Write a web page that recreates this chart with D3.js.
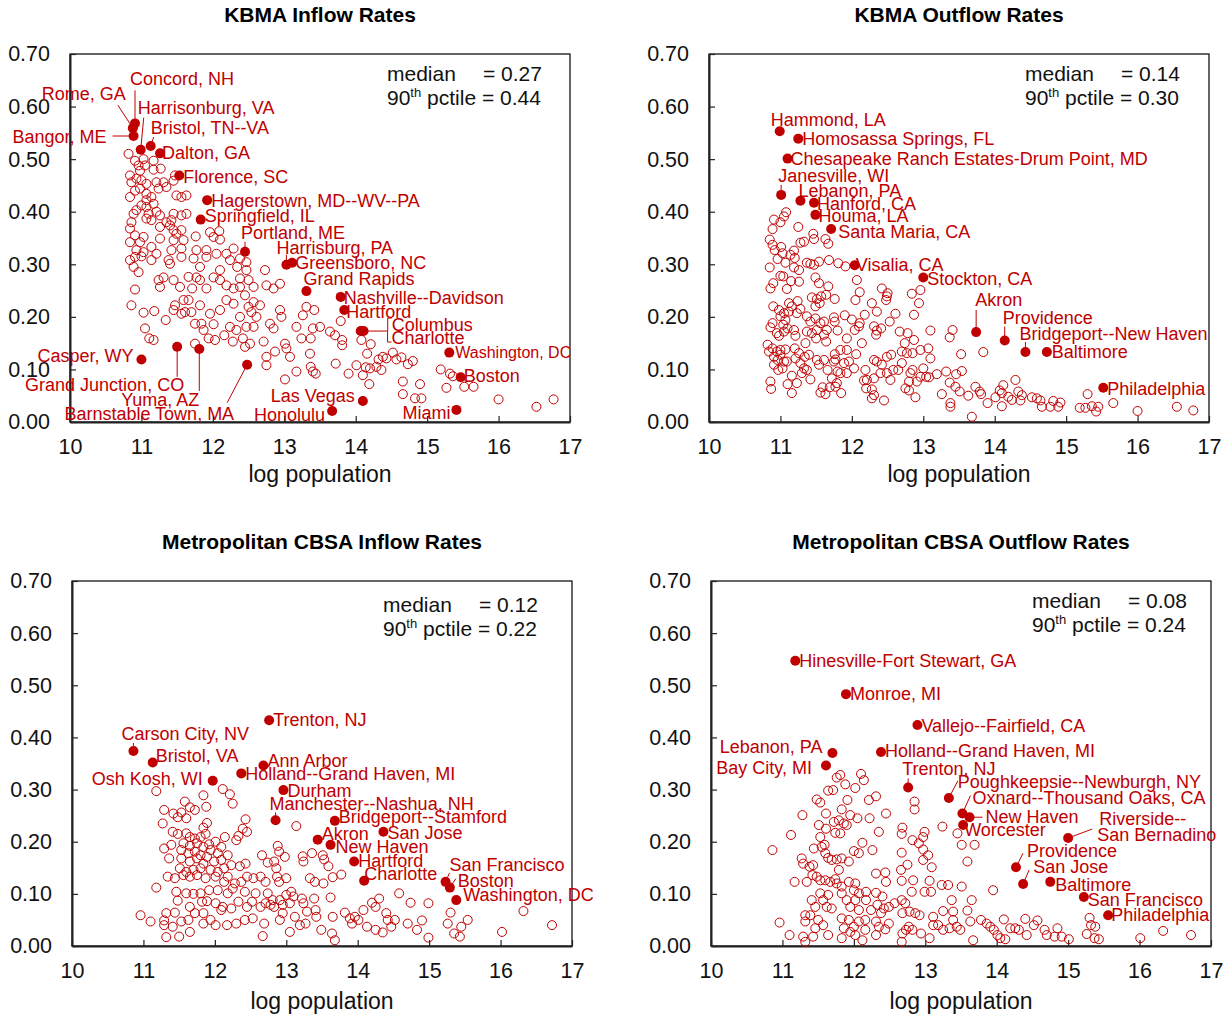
<!DOCTYPE html>
<html>
<head>
<meta charset="utf-8">
<script src="https://cdn.jsdelivr.net/npm/d3@7"></script>
<style>
  body { margin: 0; background: #fff; }
  text { font-family: "Liberation Sans", Arial, sans-serif; }
</style>
</head>
<body>
<script>
// ---- data ----
const xTicks = [10, 11, 12, 13, 14, 15, 16, 17];
const yTicks = [0, 0.1, 0.2, 0.3, 0.4, 0.5, 0.6, 0.7];
const titles = ["KBMA Inflow Rates", "KBMA Outflow Rates", "Metropolitan CBSA Inflow Rates", "Metropolitan CBSA Outflow Rates"];
const medians = [0.27, 0.14, 0.12, 0.08];
const pctile90 = [0.44, 0.30, 0.22, 0.24];

const kbmaInOpen = [
  [10.82,.51],[10.91,.497],[10.96,.488],[11.03,.50],[11.17,.497],[11.05,.488],
  [10.98,.478],[11.17,.48],[11.27,.482],
  [10.84,.469],[10.86,.456],[10.93,.463],[11.0,.46],[11.07,.453],[11.21,.456],[11.31,.456],[11.45,.459],[11.47,.469],
  [10.84,.428],[10.91,.44],[10.98,.444],[11.07,.434],[11.24,.444],[11.35,.447],[11.49,.431],[11.56,.428],[11.63,.431],
  [11.0,.412],[11.07,.422],[11.14,.428],[11.07,.409],[11.17,.415],[10.93,.403],[10.89,.396],
  [11.10,.396],[11.21,.40],[11.26,.393],[11.45,.396],[11.56,.393],[11.63,.396],
  [10.86,.38],[11.07,.387],[11.14,.384],[11.35,.38],[11.42,.384],[11.40,.374],
  [10.84,.368],[10.91,.355],[11.03,.352],[11.26,.371],[11.45,.365],[11.49,.358],[11.56,.365],[11.76,.353],[11.96,.361],[12.09,.363],
  [10.84,.342],[10.98,.342],[11.26,.349],[11.45,.346],[11.59,.346],[12.01,.352],[12.10,.347],
  [10.93,.327],[11.03,.323],[11.14,.333],[11.21,.32],[11.42,.327],[11.56,.33],[11.77,.327],[11.91,.327],[12.05,.32],[12.19,.32],[12.29,.33],
  [10.84,.308],[10.91,.314],[11.0,.315],[11.14,.308],[11.38,.308],[11.56,.314],[11.73,.311],[11.91,.314],[12.24,.308],[12.38,.311],[12.47,.304],
  [10.89,.295],[10.96,.285],[11.40,.301],[11.82,.295],[12.10,.289],[12.34,.295],[12.47,.289],[12.73,.289],
  [11.24,.27],[11.31,.275],[11.45,.27],[11.66,.276],[11.77,.275],[11.82,.27],[12.01,.275],[12.10,.27],[12.19,.26],[12.38,.273],[12.50,.27],[12.57,.257],[12.75,.26],[12.94,.263],[12.85,.254],
  [10.91,.252],[11.26,.257],[11.54,.257],[11.71,.254],[11.91,.254],[12.29,.254],[12.38,.257],
  [10.86,.222],[11.03,.208],[11.05,.178],[11.11,.159],[11.17,.156],[11.18,.211],[11.34,.194],[11.45,.213],[11.47,.222],[11.56,.206],
  [11.61,.209],[11.66,.232],[11.70,.209],[11.75,.187],[11.75,.149],[11.82,.222],[11.84,.187],[11.94,.159],[12.01,.186],[12.03,.156],
  [12.16,.165],[12.19,.232],[12.24,.181],[12.28,.153],[12.33,.175],[12.38,.20],[12.42,.159],[12.45,.143],[12.52,.149],[12.47,.181],
  [12.54,.209],[12.57,.181],[12.61,.20],[12.66,.222],[12.71,.153],[12.75,.124],[12.75,.108],[12.80,.187],[12.85,.178],[12.87,.134],
  [12.94,.213],[12.96,.20],[13.01,.149],[13.03,.14],[13.08,.124],[13.01,.081],[13.17,.096],[13.24,.159],[13.26,.203],[13.31,.219],
  [13.36,.13],[13.37,.105],[13.40,.096],[13.44,.092],[13.37,.159],[13.40,.178],[13.42,.213],[13.17,.181],[12.57,.228],[12.45,.241],
  [12.50,.219],[12.29,.225],[12.10,.213],[11.96,.206],[11.59,.232],[11.87,.175],
  [13.50,.181],[13.64,.172],[13.71,.165],[13.79,.192],[13.81,.156],[13.81,.146],[13.72,.111],[13.90,.092],[14.01,.108],[14.08,.156],
  [14.10,.089],[14.14,.104],[14.16,.13],[14.19,.072],[14.21,.148],[14.20,.102],[14.29,.105],[14.32,.119],[14.36,.099],[14.38,.124],
  [14.43,.121],[14.52,.132],[14.57,.119],[14.64,.123],[14.66,.077],[14.66,.053],[14.73,.11],[14.80,.116],[14.83,.045],[14.90,.072],
  [14.92,.045],[15.19,.10],[15.27,.065],[15.32,.092],[15.36,.087],[15.52,.067],[15.65,.067],[16.0,.043],[16.53,.029],[16.77,.043]
];
const kbmaInNamed = [
  ["Concord, NH",10.91,.568],["Rome, GA",10.88,.559],["Bangor, ME",10.89,.544],["Harrisonburg, VA",10.99,.518],
  ["Bristol, TN--VA",11.13,.525],["Dalton, GA",11.26,.511],["Florence, SC",11.53,.469],["Hagerstown, MD--WV--PA",11.92,.422],
  ["Springfield, IL",11.83,.385],["Portland, ME",12.45,.324],["Harrisburg, PA",13.03,.299],["Greensboro, NC",13.11,.303],
  ["Grand Rapids",13.31,.249],["Nashville--Davidson",13.79,.238],["Hartford",13.84,.213],["Columbus",14.07,.173],
  ["Charlotte",14.11,.173],["Washington, DC",15.31,.132],["Boston",15.47,.085],["Las Vegas",14.10,.040],
  ["Honolulu",13.67,.021],["Miami",15.41,.023],["Casper, WY",11.0,.119],["Grand Junction, CO",11.50,.143],
  ["Yuma, AZ",11.81,.139],["Barnstable Town, MA",12.48,.109]
];

const kbmaOutOpen = [
  [11.08,.399],[11.05,.391],[10.91,.385],[11.0,.38],[10.89,.367],[11.25,.371],[10.85,.347],[10.89,.337],[10.92,.327],[11.01,.333],
  [11.03,.321],[11.14,.318],[11.19,.326],[11.20,.312],[10.96,.31],[11.07,.303],[11.46,.358],[11.47,.348],[11.28,.341],[11.33,.343],
  [11.63,.348],[11.67,.339],[11.37,.303],[11.42,.301],[11.47,.299],[11.54,.305],[11.68,.308],[11.81,.302],[11.91,.296],
  [10.85,.294],[11.19,.294],[11.26,.289],[11.0,.278],[11.04,.277],[11.26,.267],[11.15,.268],[10.90,.264],[10.86,.254],[11.09,.253],
  [11.49,.275],[11.54,.264],[11.67,.258],[11.76,.234],[12.07,.27],[12.11,.247],[12.05,.232],
  [11.44,.237],[11.51,.234],[11.57,.239],[11.64,.242],[11.55,.226],[11.49,.22],[11.24,.23],[11.12,.226],[11.16,.22],[11.28,.215],
  [10.90,.22],[10.98,.213],[11.05,.207],[11.12,.21],[11.23,.207],[11.0,.201],[11.07,.194],[11.04,.185],[11.10,.178],[11.05,.172],
  [10.98,.164],[10.89,.188],[10.86,.18],[10.95,.169],[11.19,.175],[11.21,.164],[11.37,.201],[11.42,.191],[11.49,.197],[11.56,.188],
  [11.61,.191],[11.37,.172],[11.44,.169],[11.51,.175],[11.61,.166],[11.65,.175],[11.50,.159],[11.64,.153],
  [11.75,.199],[11.76,.191],[11.90,.203],[12.0,.195],[12.11,.188],[12.10,.182],[12.18,.204],[12.28,.226],[12.35,.21],[12.48,.232],
  [12.42,.254],[12.50,.245],[12.53,.191],[12.61,.206],[12.31,.182],[12.35,.174],[12.41,.178],[12.34,.166],
  [11.80,.174],[11.93,.159],[12.04,.175],[12.14,.15],[11.84,.137],[11.93,.137],[12.06,.129],[11.76,.129],[11.77,.119],
  [12.67,.172],[12.78,.169],[12.87,.156],[12.74,.15],[12.70,.134],[12.77,.131],[12.85,.131],[12.96,.137],[13.07,.14],[13.10,.121],
  [13.10,.174],[13.37,.161],[13.41,.175],[13.53,.129],[13.84,.133],[12.87,.204],[12.94,.226],[12.96,.251],[12.84,.244],[12.49,.239],
  [10.82,.147],[10.84,.134],[10.89,.14],[10.95,.134],[11.0,.137],[11.07,.138],[10.91,.124],[10.96,.118],[11.0,.128],[11.05,.115],
  [10.91,.109],[10.97,.099],[11.03,.102],[11.09,.115],[11.20,.14],[11.26,.131],[11.21,.121],[11.35,.15],[11.40,.128],[11.28,.112],
  [11.33,.102],[11.34,.124],[10.86,.077],[10.87,.063],[11.10,.072],[11.16,.088],[11.16,.055],[11.23,.074],[11.30,.093],[11.37,.099],
  [11.42,.081],[11.51,.118],[11.54,.109],[11.61,.118],[11.66,.099],[11.75,.115],[11.80,.096],[11.72,.083],[11.77,.067],[11.84,.093],
  [11.89,.112],[11.96,.115],[12.03,.102],[11.93,.093],[11.56,.056],[11.63,.053],[11.59,.066],[11.69,.066],[11.79,.074],[11.85,.055],
  [12.19,.099],[12.31,.118],[12.35,.115],[12.21,.08],[12.31,.083],[12.40,.093],[12.42,.109],[12.49,.124],[12.55,.128],[12.49,.093],
  [12.54,.08],[12.58,.099],[12.65,.099],[12.70,.112],[12.17,.079],[12.20,.064],[12.28,.062],[12.28,.045],[12.45,.041],[12.31,.051],
  [12.75,.064],[12.80,.077],[12.82,.093],[12.85,.099],[12.91,.077],[12.96,.086],[13.0,.102],[13.04,.086],[13.08,.085],[12.89,.047],
  [12.80,.06],[13.19,.091],[13.26,.053],[13.32,.096],[13.37,.075],[13.38,.036],[13.38,.029],[13.45,.067],[13.46,.091],[13.54,.097],
  [13.51,.058],[13.63,.05],[13.68,.01],[13.73,.067],[13.79,.058],[13.81,.053],[13.90,.036],[14.01,.047],[14.07,.06],[14.10,.055],
  [14.12,.07],[14.19,.048],[14.24,.042],[14.10,.03],[14.29,.08],[14.33,.058],[14.38,.051],[14.36,.041],[14.52,.047],[14.59,.045],
  [14.64,.041],[14.66,.029],[14.78,.029],[14.82,.04],[14.89,.029],[14.92,.037],[15.19,.027],[15.27,.027],[15.30,.053],[15.36,.03],
  [15.42,.02],[15.45,.029],[15.66,.036],[16.0,.021],[16.55,.029],[16.78,.022]
];
const kbmaOutNamed = [
  ["Hammond, LA",10.99,.553],["Homosassa Springs, FL",11.25,.539],["Chesapeake Ranch Estates-Drum Point, MD",11.10,.501],
  ["Janesville, WI",11.01,.432],["Lebanon, PA",11.28,.421],["Hanford, CA",11.47,.417],["Houma, LA",11.49,.394],
  ["Santa Maria, CA",11.71,.367],["Visalia, CA",12.04,.298],["Stockton, CA",13.0,.275],["Akron",13.74,.171],
  ["Providence",14.14,.155],["Bridgeport--New Haven",14.43,.133],["Baltimore",14.73,.133],["Philadelphia",15.52,.065]
];

const cbsaInOpen = [
  [11.18,.297],[12.11,.301],[12.21,.291],[12.25,.273],[11.84,.289],[11.88,.267],[11.58,.277],[11.65,.266],[11.72,.261],[11.29,.261],
  [11.42,.254],[11.53,.256],[11.27,.235],[11.48,.247],[11.60,.245],[11.84,.227],[11.89,.236],[12.43,.243],[12.39,.225],[12.45,.219],
  [12.33,.211],[12.30,.203],[11.41,.219],[11.48,.215],[11.56,.197],[11.60,.216],[11.65,.209],[11.72,.206],[11.80,.209],[11.87,.215],
  [12.14,.209],[11.53,.184],[11.65,.192],[11.75,.197],[11.84,.19],[11.92,.195],[12.01,.20],[12.09,.19],[11.29,.187],[11.39,.194],
  [11.63,.178],[11.72,.181],[11.80,.174],[11.89,.171],[11.94,.184],[12.04,.178],[12.18,.174],[11.36,.168],[11.53,.168],[11.65,.162],
  [11.75,.168],[11.84,.158],[11.99,.162],[12.09,.165],[12.23,.155],[12.35,.153],[12.43,.158],[11.51,.149],[11.60,.142],[11.70,.146],
  [11.80,.149],[11.94,.146],[12.04,.142],[12.13,.149],[11.34,.133],[11.44,.13],[11.56,.136],[11.65,.133],[11.75,.136],[11.87,.13],
  [12.01,.133],[12.18,.133],[12.13,.123],[12.28,.12],[12.37,.123],[12.45,.133],[12.54,.13],[12.64,.133],[12.71,.123],[12.87,.133],
  [13.0,.13],[12.90,.123],[12.66,.174],[12.74,.16],[12.83,.162],[12.88,.192],[12.90,.181],[12.98,.171],[12.86,.149],[13.14,.23],
  [13.23,.172],[13.24,.162],[13.36,.178],[13.33,.13],[13.40,.123],[13.51,.174],[13.53,.166],[13.59,.153],[13.65,.132],[13.77,.137],
  [13.52,.12],[11.18,.112],[11.46,.104],[11.60,.101],[11.48,.087],[11.70,.10],[11.80,.101],[11.92,.107],[12.04,.107],[12.18,.101],
  [12.25,.11],[12.42,.104],[12.57,.101],[12.74,.101],[12.81,.088],[12.91,.088],[13.0,.098],[13.07,.104],[13.10,.095],[13.22,.091],
  [13.39,.091],[13.62,.093],[11.82,.085],[11.89,.086],[12.01,.082],[12.11,.075],[12.33,.085],[12.45,.075],[12.52,.085],[12.64,.075],
  [12.71,.082],[12.78,.079],[12.83,.075],[12.95,.079],[13.05,.082],[13.24,.082],[13.29,.066],[13.41,.069],[13.42,.056],[13.65,.056],
  [13.82,.064],[13.89,.053],[13.96,.056],[14.01,.05],[14.08,.069],[13.92,.043],[14.13,.037],[14.20,.083],[14.25,.075],[14.30,.091],
  [14.40,.063],[14.42,.05],[14.52,.05],[14.47,.037],[14.25,.031],[14.35,.026],[14.58,.101],[14.74,.083],[14.70,.043],[14.83,.031],
  [14.90,.049],[14.99,.082],[14.99,.016],[15.26,.043],[15.30,.064],[15.35,.024],[15.43,.018],[15.45,.037],[15.54,.05],[16.02,.027],
  [16.32,.067],[16.72,.04],[10.96,.059],[11.10,.047],[11.32,.063],[11.29,.049],[11.29,.04],[11.44,.064],[11.41,.037],[11.53,.047],
  [11.63,.05],[11.65,.027],[11.32,.017],[11.50,.018],[11.84,.043],[11.94,.05],[12.01,.04],[12.17,.04],[12.30,.043],[12.42,.05],
  [12.53,.053],[12.67,.019],[12.69,.043],[12.91,.05],[12.95,.063],[13.05,.027],[13.12,.056],[13.19,.04],[13.27,.043],[13.49,.031],
  [13.64,.024],[13.68,.011],[12.09,.069],[12.23,.072],[11.65,.075],[11.84,.063],[11.72,.063]
];
const cbsaInNamed = [
  ["Trenton, NJ",12.76,.433],["Carson City, NV",10.86,.374],["Bristol, VA",11.13,.352],["Ann Arbor",12.68,.346],
  ["Holland--Grand Haven, MI",12.37,.331],["Osh Kosh, WI",11.97,.317],["Durham",12.96,.299],["Manchester--Nashua, NH",12.85,.241],
  ["Bridgeport--Stamford",13.68,.240],["San Jose",14.36,.219],["Akron",13.44,.204],["New Haven",13.62,.194],
  ["Hartford",13.95,.162],["Charlotte",14.09,.125],["San Francisco",15.23,.123],["Boston",15.29,.112],["Washington, DC",15.38,.088]
];

const cbsaOutOpen = [
  [10.86,.184],[10.96,.045],[11.10,.021],[11.12,.213],[11.17,.123],[11.27,.168],[11.29,.158],[11.28,.251],[11.32,.047],[11.29,.018],
  [11.32,.008],[11.32,.059],[11.39,.059],[11.34,.123],[11.38,.152],[11.43,.155],[11.42,.136],[11.44,.187],[11.48,.281],[11.53,.275],
  [11.51,.232],[11.53,.209],[11.55,.19],[11.59,.194],[11.60,.178],[11.61,.254],[11.61,.225],[11.64,.169],[11.48,.133],[11.53,.126],
  [11.60,.126],[11.67,.123],[11.76,.12],[11.41,.088],[11.46,.075],[11.53,.101],[11.57,.088],[11.64,.098],[11.62,.075],[11.69,.072],
  [11.50,.05],[11.57,.04],[11.46,.034],[11.64,.021],[11.43,.018],
  [11.64,.298],[11.71,.299],[11.76,.323],[11.81,.328],[11.88,.31],[11.72,.238],[11.79,.241],[11.86,.235],[11.90,.232],[11.83,.262],
  [11.91,.28],[11.95,.251],[12.05,.245],[11.74,.217],[11.81,.216],[11.76,.166],[11.69,.165],[11.83,.168],[11.93,.162],[12.0,.182],
  [12.07,.178],[12.12,.198],[12.26,.184],[11.79,.146],[11.74,.128],[11.83,.114],[11.93,.123],[12.02,.12],[12.0,.107],[12.07,.101],
  [12.17,.104],[11.83,.101],[11.90,.088],[11.95,.075],[12.02,.088],[12.07,.069],[12.17,.088],[12.24,.069],[11.83,.053],[11.93,.05],
  [12.0,.037],[12.07,.047],[12.16,.05],[12.16,.031],[11.86,.034],[11.83,.015],[11.95,.027],[12.02,.021],[12.12,.011],
  [12.02,.303],[12.10,.33],[12.14,.318],[12.21,.28],[12.31,.287],[12.22,.245],[12.35,.219],[12.45,.254],[12.31,.139],[12.44,.141],
  [12.45,.123],[12.31,.102],[12.40,.095],[12.33,.079],[12.42,.072],[12.49,.075],[12.38,.063],[12.31,.047],[12.35,.037],[12.44,.032],
  [12.31,.021],[12.49,.043],[12.57,.082],[12.67,.088],[12.67,.179],[12.67,.215],[12.68,.227],[12.66,.146],[12.67,.125],[12.75,.156],
  [12.82,.203],[12.83,.126],[12.81,.104],[12.85,.277],[12.85,.262],[12.91,.197],[12.97,.209],[12.99,.219],[12.97,.185],[13.04,.174],
  [12.97,.165],[13.09,.151],[12.99,.104],[13.08,.104],[13.06,.125],[12.72,.082],[12.78,.066],[12.86,.063],[12.92,.059],[12.68,.063],
  [12.77,.037],[12.68,.024],[12.73,.031],[12.82,.031],[12.94,.024],[12.67,.008],[13.06,.015],[13.11,.056],[13.11,.04],[13.18,.04],
  [13.25,.067],[13.24,.229],[13.23,.117],[13.32,.117],[13.37,.088],[13.39,.066],[13.39,.05],[13.25,.031],[13.34,.034],[13.44,.037],
  [13.49,.031],[13.51,.114],[13.51,.194],[13.45,.216],[13.59,.162],[13.59,.068],[13.63,.047],[13.65,.088],[13.69,.194],[13.67,.011],
  [13.78,.05],[13.86,.043],[13.91,.037],[13.96,.031],[14.01,.021],[14.05,.015],[14.10,.051],[13.95,.107],[14.12,.013],[14.19,.034],
  [14.26,.034],[14.31,.031],[14.40,.052],[14.42,.021],[14.52,.04],[14.57,.049],[14.67,.031],[14.70,.021],[14.81,.018],[14.85,.034],
  [14.91,.018],[15.01,.013],[15.26,.023],[15.30,.054],[15.32,.04],[15.38,.037],[15.37,.015],[15.43,.013],[16.01,.015],[16.33,.029],
  [16.72,.021]
];
const cbsaOutNamed = [
  ["Hinesville-Fort Stewart, GA",11.18,.547],["Monroe, MI",11.89,.483],["Vallejo--Fairfield, CA",12.89,.424],
  ["Lebanon, PA",11.70,.370],["Bay City, MI",11.61,.346],["Holland--Grand Haven, MI",12.38,.372],["Trenton, NJ",12.76,.304],
  ["Poughkeepsie--Newburgh, NY",13.33,.284],["Oxnard--Thousand Oaks, CA",13.52,.254],["New Haven",13.62,.247],
  ["Worcester",13.53,.232],["Riverside--San Bernadino",15.0,.207],["Providence",14.27,.151],["San Jose",14.37,.119],
  ["Baltimore",14.75,.123],["San Francisco",15.22,.094],["Philadelphia",15.56,.059]
];

// ---- layout (label placement, px offsets from the marker) ----
const labelLayout = [
  { // KBMA inflow
    "Concord, NH": {dx:-5, dy:-38, lead:[0,-33]},
    "Rome, GA": {dx:-91, dy:-28, lead:[-15,-23]},
    "Bangor, ME": {dx:-27, dy:6.5, a:"end", lead:[-21,0]},
    "Harrisonburg, VA": {dx:-3, dy:-36, lead:[3,-32]},
    "Bristol, TN--VA": {dx:0, dy:-12.5, lead:[3,-9]},
    "Dalton, GA": {dx:2, dy:6},
    "Florence, SC": {dx:4, dy:8},
    "Hagerstown, MD--WV--PA": {dx:4, dy:7},
    "Springfield, IL": {dx:4, dy:2},
    "Portland, ME": {dx:-4, dy:-13, lead:[0,-10]},
    "Harrisburg, PA": {dx:-10, dy:-11, lead:[0,-10]},
    "Greensboro, NC": {dx:3, dy:6},
    "Grand Rapids": {dx:-3, dy:-6},
    "Nashville--Davidson": {dx:3, dy:7},
    "Hartford": {dx:2, dy:8},
    "Columbus": {dx:31, dy:0, path:[[3,0],[27,0],[27,-13],[31,-13]]},
    "Charlotte": {dx:28, dy:13, path:[[24,0],[24,11],[28,11]]},
    "Washington, DC": {dx:6, dy:5, fs:16},
    "Boston": {dx:3, dy:5},
    "Las Vegas": {dx:-8, dy:1, a:"end"},
    "Honolulu": {dx:-7, dy:10, a:"end"},
    "Miami": {dx:-6, dy:9, a:"end"},
    "Casper, WY": {dx:-8, dy:3, a:"end"},
    "Grand Junction, CO": {dx:7, dy:44, a:"end", lead:[0,30]},
    "Yuma, AZ": {dx:0, dy:57, a:"end", lead:[0,42]},
    "Barnstable Town, MA": {dx:-13, dy:55, a:"end", lead:[-20,38]}
  },
  { // KBMA outflow
    "Hammond, LA": {dx:-9, dy:-5},
    "Homosassa Springs, FL": {dx:4, dy:6},
    "Chesapeake Ranch Estates-Drum Point, MD": {dx:3, dy:6},
    "Janesville, WI": {dx:-3, dy:-13, lead:[0,-10]},
    "Lebanon, PA": {dx:-2, dy:-4},
    "Hanford, CA": {dx:3, dy:7},
    "Houma, LA": {dx:3, dy:7},
    "Santa Maria, CA": {dx:7, dy:9},
    "Visalia, CA": {dx:1, dy:6},
    "Stockton, CA": {dx:4, dy:8},
    "Akron": {dx:-1, dy:-26, lead:[0,-22]},
    "Providence": {dx:-2, dy:-17, lead:[0,-14]},
    "Bridgeport--New Haven": {dx:-6, dy:-12, lead:[0,-10]},
    "Baltimore": {dx:5, dy:6},
    "Philadelphia": {dx:4, dy:7}
  },
  { // CBSA inflow
    "Trenton, NJ": {dx:4, dy:6},
    "Carson City, NV": {dx:-12, dy:-11, lead:[0,-8]},
    "Bristol, VA": {dx:3, dy:0},
    "Ann Arbor": {dx:4, dy:1},
    "Holland--Grand Haven, MI": {dx:4, dy:7},
    "Osh Kosh, WI": {dx:-10, dy:4, a:"end"},
    "Durham": {dx:4, dy:7},
    "Manchester--Nashua, NH": {dx:-6, dy:-10, lead:[0,-8]},
    "Bridgeport--Stamford": {dx:4, dy:2},
    "San Jose": {dx:4, dy:7},
    "Akron": {dx:4, dy:0},
    "New Haven": {dx:5, dy:8},
    "Hartford": {dx:4, dy:5},
    "Charlotte": {dx:0, dy:-1},
    "San Francisco": {dx:4, dy:-11, lead:[4,-9]},
    "Boston": {dx:8, dy:-1, lead:[6,-9]},
    "Washington, DC": {dx:7, dy:1}
  },
  { // CBSA outflow
    "Hinesville-Fort Stewart, GA": {dx:4, dy:6},
    "Monroe, MI": {dx:4, dy:6},
    "Vallejo--Fairfield, CA": {dx:4, dy:7},
    "Lebanon, PA": {dx:-10, dy:0, a:"end"},
    "Bay City, MI": {dx:-14, dy:8, a:"end"},
    "Holland--Grand Haven, MI": {dx:4, dy:5},
    "Trenton, NJ": {dx:-6, dy:-12, lead:[0,-9]},
    "Poughkeepsie--Newburgh, NY": {dx:9, dy:-10, lead:[9,-17]},
    "Oxnard--Thousand Oaks, CA": {dx:10, dy:-10, lead:[8,-18]},
    "New Haven": {dx:16, dy:6, lead:[13,0]},
    "Worcester": {dx:1, dy:11},
    "Riverside--San Bernadino": {dx:31, dy:-13, lines:["Riverside--","San Bernadino"], dx2:29, dy2:3, lead:[24,-9]},
    "Providence": {dx:11, dy:-10, lead:[7,-14]},
    "San Jose": {dx:10, dy:-11, lead:[6,-14]},
    "Baltimore": {dx:5, dy:9},
    "San Francisco": {dx:4, dy:9},
    "Philadelphia": {dx:3, dy:6}
  }
];

const frames = [
  {x0:70, x1:570, y0:54, y1:422, sx:317, sy:27, ty:60},
  {x0:709, x1:1209, y0:54, y1:422, sx:316, sy:27, ty:60},
  {x0:72, x1:572, y0:581, y1:946, sx:311, sy:31, ty:63},
  {x0:711, x1:1211, y0:581, y1:946, sx:321, sy:27, ty:63}
];
const openSets = [kbmaInOpen, kbmaOutOpen, cbsaInOpen, cbsaOutOpen];
const namedSets = [kbmaInNamed, kbmaOutNamed, cbsaInNamed, cbsaOutNamed];

const RED = "#c00000";
const svg = d3.select("body").append("svg").attr("width", 1231).attr("height", 1017);
svg.append("rect").attr("width", 1231).attr("height", 1017).attr("fill", "#fff");

function drawPanel(i){
  const f = frames[i];
  const x = d3.scaleLinear().domain([10, 17]).range([f.x0, f.x1]);
  const y = d3.scaleLinear().domain([0, 0.7]).range([f.y1, f.y0]);
  const g = svg.append("g");

  g.append("rect")
    .attr("x", f.x0).attr("y", f.y0)
    .attr("width", f.x1 - f.x0).attr("height", f.y1 - f.y0)
    .attr("fill", "none").attr("stroke", "#000").attr("stroke-width", 1.2);

  const yAxis = g.append("g").attr("transform", "translate(" + f.x0 + ",0)")
    .call(d3.axisLeft(y).tickValues(yTicks).tickFormat(d3.format(".2f")).tickSize(-6).tickSizeOuter(0).tickPadding(20));
  const xAxis = g.append("g").attr("transform", "translate(0," + f.y1 + ")")
    .call(d3.axisBottom(x).tickValues(xTicks).tickFormat(d3.format("d")).tickSize(-6).tickSizeOuter(0).tickPadding(17));
  [yAxis, xAxis].forEach(a => {
    a.select(".domain").attr("stroke", "#222").attr("stroke-width", 2);
    a.selectAll(".tick line").attr("stroke", "#222").attr("stroke-width", 1.2);
    a.selectAll(".tick text").attr("fill", "#111")
      .style("font-family", "'Liberation Sans', Arial, sans-serif").style("font-size", "21.5px");
  });

  g.append("text")
    .attr("x", (f.x0 + f.x1) / 2).attr("y", f.y0 - 32)
    .attr("text-anchor", "middle").attr("font-size", 21).attr("font-weight", "bold")
    .text(titles[i]);
  g.append("text")
    .attr("x", (f.x0 + f.x1) / 2).attr("y", f.y1 + f.ty)
    .attr("text-anchor", "middle").attr("font-size", 23).attr("fill", "#111")
    .text("log population");

  // median / 90th pctile box
  const st = g.append("g").attr("font-size", 21).attr("fill", "#111");
  st.append("text").attr("x", f.x0 + f.sx).attr("y", f.y0 + f.sy).text("median");
  st.append("text").attr("x", f.x0 + f.sx + 96).attr("y", f.y0 + f.sy).text("= " + medians[i].toFixed(2));
  const l2 = st.append("text").attr("x", f.x0 + f.sx).attr("y", f.y0 + f.sy + 24);
  l2.append("tspan").text("90");
  l2.append("tspan").attr("font-size", 13).attr("dy", -8).text("th");
  l2.append("tspan").attr("dy", 8).text(" pctile = " + pctile90[i].toFixed(2));

  g.append("g").selectAll("circle").data(openSets[i]).join("circle")
    .attr("cx", d => x(d[0])).attr("cy", d => y(d[1])).attr("r", 4.5)
    .attr("fill", "none").attr("stroke", RED).attr("stroke-width", 1);

  const lay = labelLayout[i];
  const named = namedSets[i];
  g.append("g").selectAll("circle").data(named).join("circle")
    .attr("cx", d => x(d[1])).attr("cy", d => y(d[2])).attr("r", 5)
    .attr("fill", RED);

  named.forEach(d => {
    const L = lay[d[0]] || {dx:4, dy:6};
    const px = x(d[1]), py = y(d[2]);
    if (L.lead){
      g.append("line").attr("x1", px + L.lead[0]).attr("y1", py + L.lead[1])
        .attr("x2", px).attr("y2", py).attr("stroke", RED).attr("stroke-width", 1);
    }
    if (L.path){
      g.append("path").attr("d", d3.line()(L.path.map(p => [px + p[0], py + p[1]])))
        .attr("fill", "none").attr("stroke", RED).attr("stroke-width", 1);
    }
    const fs = L.fs || 18;
    const lines = L.lines || [d[0]];
    lines.forEach((t, k) => {
      g.append("text")
        .attr("x", px + (k ? L.dx2 : L.dx)).attr("y", py + (k ? L.dy2 : L.dy))
        .attr("text-anchor", L.a || "start").attr("font-size", fs).attr("fill", RED)
        .text(t);
    });
  });
}

[0, 1, 2, 3].forEach(drawPanel);
</script>
</body>
</html>
